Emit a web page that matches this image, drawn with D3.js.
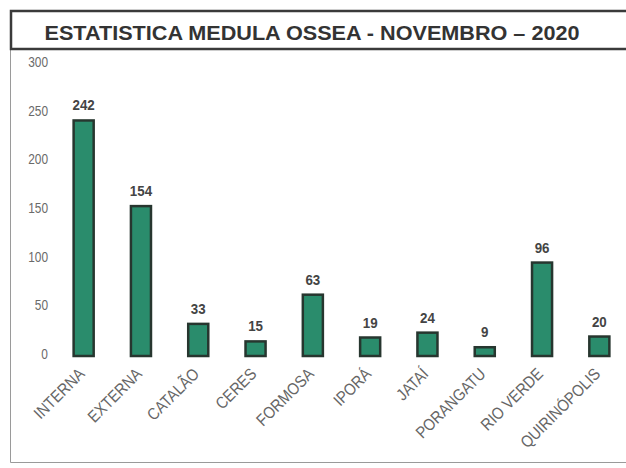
<!DOCTYPE html>
<html lang="pt">
<head>
    <meta charset="UTF-8">
    <script src="https://d3js.org/d3.v7.min.js"></script>
    <title>Estatistica Medula Ossea - Novembro 2020</title>
    <style>
        body { margin: 0; background: #fff; }
    </style>
</head>
<body>
    <div id="chart"></div>
    <script>
        // data
        const categories = ["INTERNA", "EXTERNA", "CATALÃO", "CERES", "FORMOSA", "IPORÁ", "JATAÍ", "PORANGATU", "RIO VERDE", "QUIRINÓPOLIS"];
        const values = [242, 154, 33, 15, 63, 19, 24, 9, 96, 20];
        const yTicks = [0, 50, 100, 150, 200, 250, 300];
        const title = "ESTATISTICA MEDULA OSSEA - NOVEMBRO – 2020";

        const W = 626, H = 468;
        const font = "Liberation Sans, Arial, sans-serif";

        const svg = d3.select("#chart")
            .append("svg")
            .attr("width", W)
            .attr("height", H)
            .attr("font-family", font);

        // outer frame (left + bottom lines)
        svg.append("path")
            .attr("d", "M10.5,12 V462.5 H626")
            .attr("fill", "none")
            .attr("stroke", "#9a9a9a")
            .attr("stroke-width", 1);

        // title box
        svg.append("rect")
            .attr("x", 11)
            .attr("y", 11)
            .attr("width", 630)
            .attr("height", 38)
            .attr("fill", "#fff")
            .attr("stroke", "#3a3a3a")
            .attr("stroke-width", 2.5);

        svg.append("text")
            .attr("x", 312)
            .attr("y", 40)
            .attr("text-anchor", "middle")
            .attr("font-weight", "bold")
            .attr("font-size", 20)
            .attr("fill", "#333")
            .attr("textLength", 535)
            .attr("lengthAdjust", "spacingAndGlyphs")
            .text(title);

        // scales
        const x = d3.scaleBand()
            .domain(categories)
            .range([55, 628])
            .paddingInner(0.65)
            .paddingOuter(0.325);

        const y = d3.scaleLinear()
            .domain([0, 300])
            .range([356, 64]);

        // y axis, labels only (narrowed like Arial Narrow)
        const yAxis = svg.append("g")
            .attr("transform", "translate(48,0)")
            .call(d3.axisLeft(y).tickValues(yTicks).tickSize(0).tickPadding(0));
        yAxis.select(".domain").remove();
        yAxis.attr("font-family", null).attr("font-size", null);
        yAxis.selectAll("text")
            .attr("x", 0)
            .attr("dy", "0.32em")
            .attr("font-size", 14)
            .attr("fill", "#6a6a6a")
            .attr("transform", "translate(0,-2) scale(0.85,1)");

        // bars
        svg.append("g")
            .selectAll("rect")
            .data(values)
            .join("rect")
            .attr("x", (d, i) => x(categories[i]))
            .attr("y", d => y(d))
            .attr("width", x.bandwidth())
            .attr("height", d => y(0) - y(d))
            .attr("fill", "#2a8c6c")
            .attr("stroke", "#27362f")
            .attr("stroke-width", 2.5);

        // value labels
        svg.append("g")
            .selectAll("text")
            .data(values)
            .join("text")
            .attr("transform", (d, i) => `translate(${x(categories[i]) + x.bandwidth() / 2},${y(d) - 10}) scale(0.92,1)`)
            .attr("text-anchor", "middle")
            .attr("font-size", 14.5)
            .attr("font-weight", "bold")
            .attr("fill", "#444")
            .text(d => d);

        // category labels, rotated
        const xAxis = svg.append("g")
            .attr("transform", "translate(0,362)")
            .call(d3.axisBottom(x).tickSize(0).tickPadding(0));
        xAxis.select(".domain").remove();
        xAxis.attr("font-family", null).attr("font-size", null);
        xAxis.selectAll("text")
            .attr("font-size", 16.5)
            .attr("fill", "#666")
            .attr("text-anchor", "end")
            .attr("dy", null)
            .attr("y", 0)
            .attr("transform", "translate(2,13) rotate(-45) scale(0.88,1)");
    </script>
</body>
</html>
